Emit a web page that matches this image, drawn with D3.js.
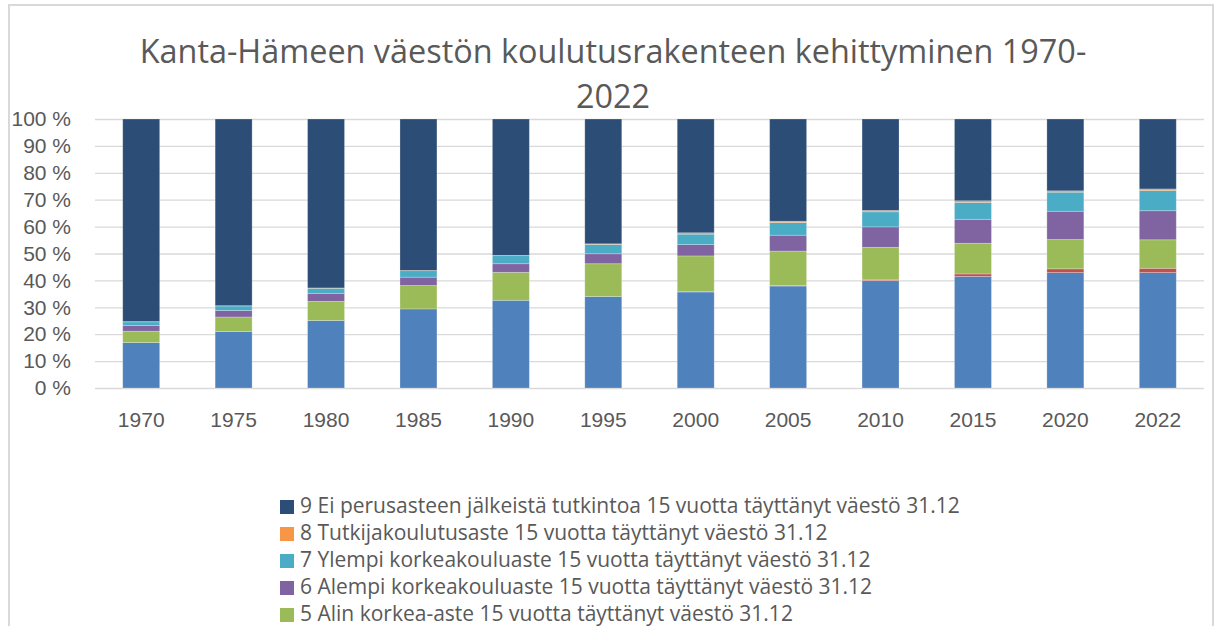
<!DOCTYPE html>
<html>
<head>
<meta charset="utf-8">
<script src="https://cdn.jsdelivr.net/npm/d3@7"></script>
<style>
    html, body { margin: 0; padding: 0; background: #fff; overflow: hidden; }
    svg { display: block; font-family: "Open Sans", "Noto Sans", sans-serif; }
</style>
</head>
<body>
<div id="chart"></div>
<script>
// Vuodet (x-akseli)
var years = ['1970', '1975', '1980', '1985', '1990', '1995', '2000', '2005', '2010', '2015', '2020', '2022'];

// Osuudet (%) koulutusasteittain, luettu kuvasta
var keskiaste = [16.9, 21.0, 25.1, 29.4, 32.6, 34.0, 35.7, 37.9, 39.9, 41.5, 42.9, 42.9];
var erikoisammatti = [0, 0, 0, 0, 0, 0, 0.1, 0.2, 0.3, 0.9, 1.4, 1.6];
var alinKorkea = [4.2, 5.4, 7.1, 8.7, 10.4, 12.2, 13.3, 12.8, 12.1, 11.4, 10.9, 10.6];
var alempiKorkeakoulu = [2.1, 2.4, 3.0, 3.1, 3.2, 3.7, 4.2, 5.9, 7.6, 8.9, 10.5, 10.8];
var ylempiKorkeakoulu = [1.4, 1.7, 1.9, 2.4, 3.0, 3.5, 3.9, 4.7, 5.6, 6.3, 7.1, 7.5];
var tutkija = [0.1, 0.1, 0.1, 0.1, 0.1, 0.2, 0.5, 0.5, 0.5, 0.6, 0.5, 0.6];
var eiTutkintoa = [75.3, 69.4, 62.8, 56.3, 50.7, 46.4, 42.3, 38.0, 34.0, 30.4, 26.7, 26.0];

// Sarjojen nimet (pinoamisjärjestys alhaalta ylös)
var seriesNames = [
    '3 Keskiaste 15 vuotta täyttänyt väestö 31.12',
    '4 Erikoisammattikoulutusaste 15 vuotta täyttänyt väestö 31.12',
    '5 Alin korkea-aste 15 vuotta täyttänyt väestö 31.12',
    '6 Alempi korkeakouluaste 15 vuotta täyttänyt väestö 31.12',
    '7 Ylempi korkeakouluaste 15 vuotta täyttänyt väestö 31.12',
    '8 Tutkijakoulutusaste 15 vuotta täyttänyt väestö 31.12',
    '9 Ei perusasteen jälkeistä tutkintoa 15 vuotta täyttänyt väestö 31.12'
];
var seriesValues = [keskiaste, erikoisammatti, alinKorkea, alempiKorkeakoulu, ylempiKorkeakoulu, tutkija, eiTutkintoa];

var yTicks = [0, 0.1, 0.2, 0.3, 0.4, 0.5, 0.6, 0.7, 0.8, 0.9, 1];
var titleLines = ['Kanta-Hämeen väestön koulutusrakenteen kehittyminen 1970-', '2022'];

var colors = ['#4f81bd', '#c0504d', '#9bbb59', '#8064a2', '#4bacc6', '#f79646', '#2c4d75'];

class StackedBarCreator {
    constructor(element) {
        this.width = 1217;
        this.height = 626;
        this.plot = { left: 95, right: 1204, top: 119, bottom: 388 };
        this.textColor = '#595959';
        this.wrapperElement = d3.select(element);
        return this;
    }

    /**
     * Builds canvas, frame, title, axes, bars and legend
     */
    create() {
        this.canvas = this.wrapperElement.append('svg')
            .attr('width', this.width)
            .attr('height', this.height);

        this.addFrame();
        this.addTitle();
        this.buildScales();
        this.addAxes();
        this.addBars();
        this.addLegend();
        return this;
    }

    addFrame() {
        this.canvas.append('rect')
            .attr('x', 9)
            .attr('y', 5)
            .attr('width', 1204)
            .attr('height', 700)
            .attr('fill', 'none')
            .attr('stroke', '#d9d9d9')
            .attr('stroke-width', 2);
    }

    addTitle() {
        var baselines = [63, 108];
        this.canvas.selectAll('.title')
            .data(titleLines)
            .enter()
            .append('text')
            .attr('class', 'title')
            .attr('x', 613)
            .attr('y', (d, i) => baselines[i])
            .attr('text-anchor', 'middle')
            .attr('font-size', '32.4px')
            .attr('fill', this.textColor)
            .text(d => d);
    }

    buildScales() {
        this.x = d3.scaleBand()
            .domain(years)
            .range([this.plot.left, this.plot.right])
            .paddingInner(0.6)
            .paddingOuter(0.3);

        this.y = d3.scaleLinear()
            .domain([0, 1])
            .range([this.plot.bottom, this.plot.top]);
    }

    addAxes() {
        var yAxis = d3.axisLeft(this.y)
            .tickValues(yTicks)
            .tickSizeInner(-(this.plot.right - this.plot.left))
            .tickSizeOuter(0)
            .tickPadding(24)
            .tickFormat(d => Math.round(d * 100) + ' %');

        var gy = this.canvas.append('g')
            .attr('transform', 'translate(' + this.plot.left + ',0)')
            .call(yAxis);
        gy.select('.domain').remove();
        gy.selectAll('line')
            .attr('stroke', '#d9d9d9')
            .attr('stroke-width', 1.3);
        gy.selectAll('text')
            .attr('font-size', '21px')
            .attr('font-family', null)
            .attr('fill', this.textColor);

        var xAxis = d3.axisBottom(this.x)
            .tickSize(0)
            .tickPadding(24);

        var gx = this.canvas.append('g')
            .attr('transform', 'translate(0,' + this.plot.bottom + ')')
            .call(xAxis);
        gx.select('.domain').remove();
        gx.selectAll('text')
            .attr('font-size', '21px')
            .attr('font-family', null)
            .attr('fill', this.textColor);
    }

    addBars() {
        var rows = years.map((year, i) => {
            var row = { year: year };
            seriesNames.forEach((name, s) => { row[name] = seriesValues[s][i]; });
            return row;
        });

        var stack = d3.stack()
            .keys(seriesNames)
            .offset(d3.stackOffsetExpand);

        var layers = this.canvas.append('g')
            .selectAll('g')
            .data(stack(rows))
            .enter()
            .append('g')
            .attr('fill', (d, i) => colors[i]);

        layers.selectAll('rect')
            .data(d => d)
            .enter()
            .append('rect')
            .attr('x', d => this.x(d.data.year))
            .attr('width', this.x.bandwidth())
            .attr('y', d => this.y(d[1]))
            .attr('height', d => this.y(d[0]) - this.y(d[1]))
            .attr('stroke', '#ffffff')
            .attr('stroke-opacity', 0.3)
            .attr('stroke-width', 0.8);
    }

    addLegend() {
        // Legend order is reversed compared to stacking order.
        // Only the rows that fit inside the picture are drawn (the rest are cut off in the original).
        var rowStep = 27;
        var top = 500;
        var items = seriesNames.map((name, i) => ({ name: name, color: colors[i] }))
            .reverse()
            .filter((d, i) => top + i * rowStep + 14 <= this.height);

        var legend = this.canvas.selectAll('.legend-item')
            .data(items)
            .enter()
            .append('g')
            .attr('class', 'legend-item')
            .attr('transform', (d, i) => 'translate(280,' + (top + i * rowStep) + ')');

        legend.append('rect')
            .attr('width', 14)
            .attr('height', 14)
            .attr('fill', d => d.color);

        legend.append('text')
            .attr('x', 20)
            .attr('y', 13)
            .attr('font-size', '21px')
            .attr('fill', this.textColor)
            .text(d => d.name);
    }
}

new StackedBarCreator('#chart').create();
</script>
</body>
</html>
